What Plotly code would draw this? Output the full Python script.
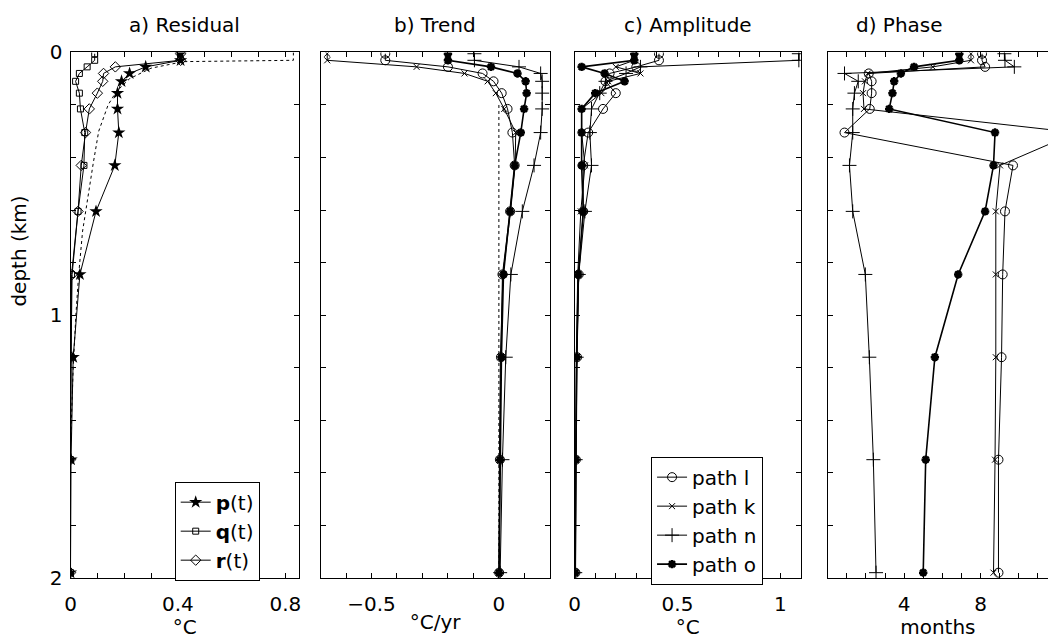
import plotly.graph_objects as go

# ---------------- data ----------------
depth = [0.005, 0.03, 0.055, 0.08, 0.11, 0.155, 0.215, 0.305, 0.43, 0.605, 0.845, 1.16, 1.55, 1.98]

# a) Residual (deg C)
res_p = [0.41, 0.41, 0.28, 0.22, 0.19, 0.175, 0.175, 0.18, 0.165, 0.095, 0.035, 0.01, 0.002, 0.0]
res_q = [0.09, 0.09, 0.062, 0.033, 0.019, 0.033, 0.037, 0.053, 0.05, 0.028, 0.004, 0.002, 0.0, 0.0]
res_r = [0.41, 0.41, 0.167, 0.123, 0.12, 0.10, 0.07, 0.056, 0.04, 0.028, 0.006, 0.002, 0.0, 0.0]
res_ref_x = [0.83, 0.83, 0.42, 0.30, 0.22, 0.17, 0.14, 0.105, 0.085, 0.065, 0.045, 0.03, 0.02, 0.01, 0.0]
res_ref_d = [0.0, 0.03, 0.035, 0.06, 0.10, 0.15, 0.20, 0.30, 0.42, 0.55, 0.68, 0.85, 1.0, 1.2, 1.5]

# b) Trend (deg C / yr)
tr_l = [-0.446, -0.446, -0.200, -0.064, -0.021, 0.011, 0.034, 0.053, 0.062, 0.044, 0.014, 0.008, 0.004, 0.001]
tr_k = [-0.674, -0.674, -0.323, -0.135, -0.044, -0.012, 0.021, 0.066, 0.064, 0.046, 0.016, 0.006, 0.002, 0.0]
tr_n = [-0.096, -0.096, 0.079, 0.164, 0.17, 0.17, 0.17, 0.164, 0.138, 0.092, 0.047, 0.027, 0.014, 0.005]
tr_o = [-0.2, -0.2, -0.031, 0.073, 0.105, 0.109, 0.099, 0.086, 0.062, 0.044, 0.018, 0.01, 0.005, 0.001]
tr_ref_x = [0.0, 0.0]
tr_ref_d = [0.2, 2.0]

# c) Amplitude (deg C)
am_l = [0.41, 0.41, 0.30, 0.17, 0.15, 0.20, 0.138, 0.066, 0.042, 0.042, 0.02, 0.012, 0.006, 0.004]
am_k = [0.29, 0.29, 0.20, 0.32, 0.163, 0.13, 0.034, 0.034, 0.05, 0.03, 0.015, 0.008, 0.004, 0.002]
am_n = [1.09, 1.09, 0.32, 0.25, 0.15, 0.122, 0.082, 0.074, 0.082, 0.05, 0.02, 0.01, 0.005, 0.003]
am_o = [0.29, 0.29, 0.034, 0.146, 0.243, 0.10, 0.034, 0.034, 0.034, 0.042, 0.018, 0.01, 0.005, 0.003]

# d) Phase (months)
ph_l = [8.08, 8.08, 8.24, 2.15, 2.3, 2.3, 2.2, 0.88, 9.7, 9.28, 9.16, 9.1, 8.94, 8.94]
ph_k = [7.5, 7.5, 5.5, 2.1, 1.95, 1.85, 1.9, 13.0, 9.02, 8.8, 8.8, 8.8, 8.76, 8.68]
ph_n = [9.25, 9.28, 9.77, 0.88, 1.6, 1.4, 1.31, 1.31, 1.14, 1.31, 1.97, 2.18, 2.39, 2.53]
ph_o = [6.89, 6.89, 4.52, 3.83, 3.48, 3.39, 3.22, 8.76, 8.68, 8.24, 6.83, 5.61, 5.13, 5.0]

titles = ["a) Residual", "b) Trend", "c) Amplitude", "d) Phase"]
xunits = ["°C", "°C/yr", "°C", "months"]
res_names = ["<b>p</b>(t)", "<b>q</b>(t)", "<b>r</b>(t)"]
path_names = ["path l", "path k", "path n", "path o"]

# ---------------- layout geometry ----------------
W, H = 1050, 639
FONT = "DejaVu Sans, Liberation Sans, sans-serif"
FS = 20
panels_px = [(65, 295), (317, 548), (573, 801), (828, 1050)]
ytop, ybot = 42, 588
ydom = [1 - ybot / H, 1 - ytop / H]

fig = go.Figure()

BL = "black"
def add(x, y, xa, ya, name=None, symbol="circle", size=7, dash="solid",
        mode="lines+markers", legend=None, lw=1, mlw=1):
    fig.add_trace(go.Scatter(
        x=x, y=y, xaxis=xa, yaxis=ya, mode=mode, name=name,
        showlegend=legend is not None, legend=legend if legend else "legend",
        line=dict(color=BL, width=lw, dash=dash),
        marker=dict(symbol=symbol, size=size, color=BL,
                    line=dict(color=BL, width=mlw)),
        cliponaxis=True, hoverinfo="skip"))

# a
add(res_ref_x, res_ref_d, "x", "y", mode="lines", dash="dot")
add(res_p, depth, "x", "y", res_names[0], "star", 10, legend="legend", mlw=0)
add(res_q, depth, "x", "y", res_names[1], "square-open", 6, legend="legend")
add(res_r, depth, "x", "y", res_names[2], "diamond-open", 8, legend="legend")
# b
add(tr_ref_x, tr_ref_d, "x2", "y2", mode="lines", dash="dot")
add(tr_l, depth, "x2", "y2", symbol="circle-open", size=9)
add(tr_k, depth, "x2", "y2", symbol="x-thin-open", size=6)
add(tr_n, depth, "x2", "y2", symbol="cross-thin-open", size=10)
add(tr_o, depth, "x2", "y2", symbol="asterisk-open", size=7, mlw=2.5, lw=1.6)
# c
add(am_l, depth, "x3", "y3", path_names[0], "circle-open", 9, legend="legend2")
add(am_k, depth, "x3", "y3", path_names[1], "x-thin-open", 6, legend="legend2")
add(am_n, depth, "x3", "y3", path_names[2], "cross-thin-open", 10, legend="legend2")
add(am_o, depth, "x3", "y3", path_names[3], "asterisk-open", 7, mlw=2.5, lw=1.6, legend="legend2")
# d
add(ph_l, depth, "x4", "y4", symbol="circle-open", size=9)
add(ph_k, depth, "x4", "y4", symbol="x-thin-open", size=6)
add(ph_n, depth, "x4", "y4", symbol="cross-thin-open", size=10)
add(ph_o, depth, "x4", "y4", symbol="asterisk-open", size=7, mlw=2.5, lw=1.6)

xranges = [[0, 0.85], [-0.7, 0.2], [0, 1.1], [0, (1050 - 828) / 19.25]]
xticks = [[i * 0.1 for i in range(0, 9)],
          [-0.7 + i * 0.1 for i in range(0, 10)],
          [i * 0.1 for i in range(0, 12)],
          list(range(0, 12))]
xlabels = [{0: "0", 4: "0.4", 8: "0.8"},
           {2: "\u22120.5", 7: "0"},
           {0: "0", 5: "0.5", 10: "1"},
           {4: "4", 8: "8"}]

ytv = [i * 0.2 for i in range(11)]
ytt = ["0", "", "", "", "", "1", "", "", "", "", "2"]

tf = dict(family=FONT, size=FS, color=BL)
lay = {}
for i in range(4):
    sfx = "" if i == 0 else str(i + 1)
    x0, x1 = panels_px[i]
    tt = [xlabels[i].get(j, "") for j in range(len(xticks[i]))]
    lay["xaxis" + sfx] = dict(
        domain=[x0 / W, x1 / W], range=xranges[i], anchor="y" + sfx,
        tickvals=xticks[i], ticktext=tt, ticks="inside", ticklen=5, tickcolor=BL,
        showline=True, linecolor=BL, linewidth=1, mirror="ticks",
        showgrid=False, zeroline=False, ticklabelstandoff=8,
        tickfont=tf,
        title=dict(text=xunits[i], font=tf, standoff=0))
    lay["yaxis" + sfx] = dict(
        domain=ydom, range=[2, 0], anchor="x" + sfx,
        tickvals=ytv, ticktext=ytt if i == 0 else [""] * 11,
        ticks="inside", ticklen=5, tickcolor=BL,
        showline=True, linecolor=BL, linewidth=1, mirror="ticks" if i < 3 else False,
        showgrid=False, zeroline=False, ticklabelstandoff=3,
        tickfont=tf)
    fig.add_annotation(text=titles[i], xref="paper", yref="paper",
                       x=(x0 + min(x1, x0 + 230)) / 2 / W if i < 3 else 900 / W,
                       y=1 - 13 / H, xanchor="center", yanchor="middle", showarrow=False,
                       font=tf)

fig.add_annotation(text="depth (km)", xref="paper", yref="paper", x=13 / W, y=1 - 248 / H,
                   xanchor="center", yanchor="middle", textangle=-90, showarrow=False, font=tf)

fig.update_layout(**lay)
fig.update_layout(
    width=W, height=H, margin=dict(l=0, r=0, t=0, b=0),
    paper_bgcolor="white", plot_bgcolor="white",
    legend=dict(x=170 / W, y=1 - 488 / H, xanchor="left", yanchor="top",
                bordercolor=BL, borderwidth=1, bgcolor="white",
                font=tf, itemwidth=30, tracegroupgap=0),
    legend2=dict(x=650 / W, y=1 - 462 / H, xanchor="left", yanchor="top",
                 bordercolor=BL, borderwidth=1, bgcolor="white",
                 font=tf, itemwidth=30, tracegroupgap=0),
    showlegend=True,
)

fig.write_html("out.html")
